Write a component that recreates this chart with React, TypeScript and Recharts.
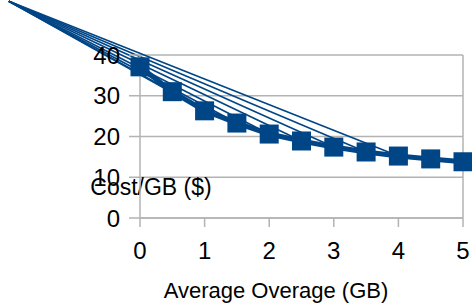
import React from 'react';
import { ComposedChart, Line, XAxis, YAxis, CartesianGrid, ReferenceLine, Label } from 'recharts';

const overageGB = [0, 0.5, 1, 1.5, 2, 2.5, 3, 3.5, 4, 4.5, 5];
const costPerGB = [37.1, 31.0, 26.3, 23.3, 20.6, 18.9, 17.4, 16.2, 15.2, 14.5, 13.8];
const fanOriginX = -2.03;
const fanOriginY = 53.2;
const fanTargetIdx = [1, 2, 3, 4, 5, 6, 7, 8];
const xTicks = [0, 1, 2, 3, 4, 5];
const yTicks = [0, 10, 20, 30, 40];

const data = overageGB.map((x, i) => ({ x, cost: costPerGB[i] }));

const BLUE = '#004586';
const GRID = '#b3b3b3';
const FONT = '"Liberation Sans", Arial, sans-serif';

const SquareDot = (props: any) => {
  const { cx, cy } = props;
  if (cx == null || cy == null) return null;
  return <rect x={cx - 9.5} y={cy - 9.5} width={19} height={19} fill={BLUE} />;
};

export default function App() {
  return (
    <div style={{ position: 'absolute', left: 0, top: 0 }}>
      <ComposedChart
        width={472}
        height={305}
        data={data}
        margin={{ top: 55, right: 9, bottom: 0, left: 0 }}
        style={{ fontFamily: FONT }}
      >
        <CartesianGrid vertical={false} stroke={GRID} strokeWidth={1.5} />
        <XAxis
          dataKey="x"
          type="number"
          domain={[0, 5]}
          ticks={xTicks}
          height={87}
          tickSize={9}
          tickMargin={15}
          stroke={GRID}
          strokeWidth={1.5}
          tick={{ fill: '#000', fontSize: 24, fontFamily: FONT }}
        >
          <Label
            content={() => (
              <text x={276} y={298} textAnchor="middle" fontSize={22} fontFamily={FONT} fill="#000">
                Average Overage (GB)
              </text>
            )}
          />
        </XAxis>
        <YAxis
          type="number"
          domain={[0, 40]}
          ticks={yTicks}
          width={140}
          tickSize={11}
          tickMargin={9}
          stroke={GRID}
          strokeWidth={1.5}
          tick={{ fill: '#000', fontSize: 24, fontFamily: FONT }}
        />
        <ReferenceLine x={5} stroke={GRID} strokeWidth={1.5} />
        {fanTargetIdx.map((i) => (
          <ReferenceLine
            key={i}
            segment={[
              { x: fanOriginX, y: fanOriginY },
              { x: overageGB[i], y: costPerGB[i] },
            ]}
            ifOverflow="visible"
            stroke={BLUE}
            strokeWidth={1.6}
          />
        ))}
        <Line
          dataKey="cost"
          stroke={BLUE}
          strokeWidth={5}
          dot={<SquareDot />}
          activeDot={false}
          isAnimationActive={false}
        />
        <ReferenceLine
          y={10}
          stroke="none"
          ifOverflow="visible"
          label={() => (
            <text x={151} y={195} textAnchor="middle" fontSize={23} fontFamily={FONT} fill="#000">
              Cost/GB ($)
            </text>
          )}
        />
      </ComposedChart>
    </div>
  );
}
